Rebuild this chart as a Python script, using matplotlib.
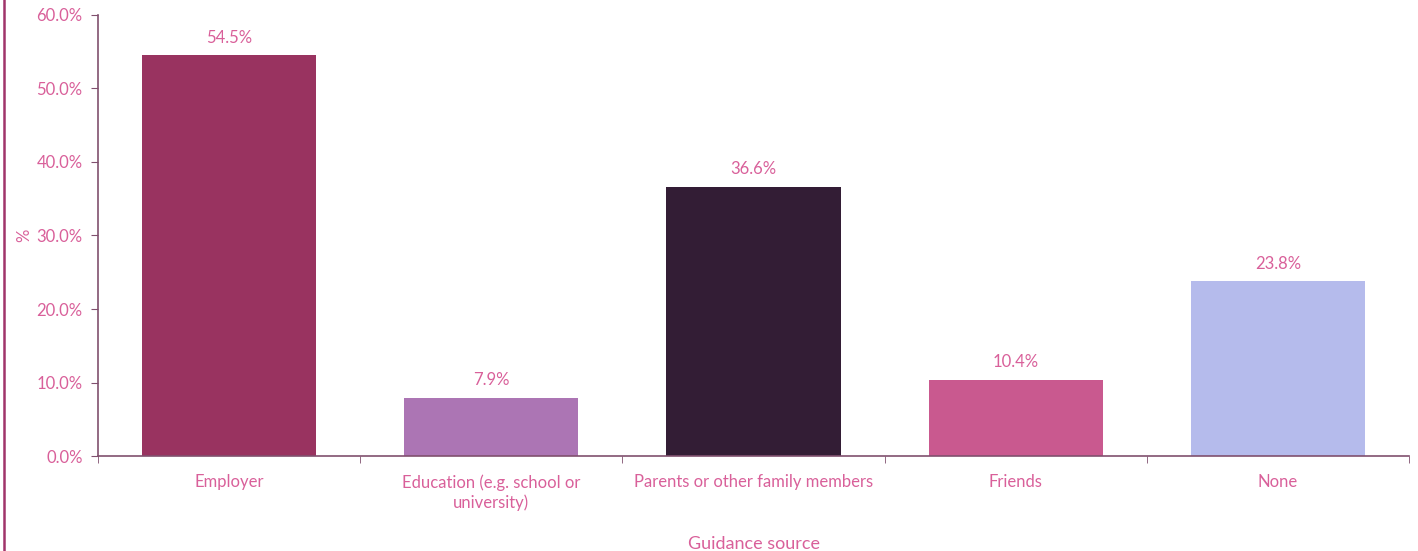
import matplotlib
matplotlib.use("Agg")
import matplotlib.pyplot as plt
from matplotlib.lines import Line2D
from matplotlib.ticker import FuncFormatter, FixedLocator, NullFormatter

categories = ["Employer", "Education (e.g. school or\nuniversity)",
              "Parents or other family members", "Friends", "None"]
values = [54.5, 7.9, 36.6, 10.4, 23.8]
colors = ["#993360", "#AC75B4", "#331D35", "#C9598F", "#B5BBEC"]

text_color = "#D9609A"
spine_color = "#80506E"

plt.rcParams['font.family'] = ['Lato', 'DejaVu Sans']

fig = plt.figure(figsize=(14.18, 5.51), dpi=100)
ax = fig.add_axes([0.0691, 0.1724, 0.9246, 0.8004])

x = list(range(len(categories)))
ax.bar(x, values, width=0.665, color=colors, zorder=2)
for xi, v in zip(x, values):
    ax.text(xi, v + 1.3, f"{v:.1f}%", ha="center", va="bottom",
            color=text_color, fontsize=12)

ax.set_xlim(-0.5, len(categories) - 0.5)
ax.set_ylim(0, 60)
ax.set_yticks([0, 10, 20, 30, 40, 50, 60])
ax.yaxis.set_major_formatter(FuncFormatter(lambda v, p: f"{v:.1f}%"))
ax.set_xticks(x)
ax.set_xticklabels(categories, color=text_color, fontsize=12, linespacing=1.25)
ax.xaxis.set_minor_locator(FixedLocator([i + 0.5 for i in range(-1, len(categories))]))
ax.xaxis.set_minor_formatter(NullFormatter())
ax.tick_params(axis="x", which="major", length=0, pad=13)
ax.tick_params(axis="x", which="minor", length=5, color=spine_color, direction="out")
ax.tick_params(axis="y", length=5, color=spine_color, labelcolor=text_color,
               labelsize=12, pad=6)

for s in ["top", "right"]:
    ax.spines[s].set_visible(False)
for s in ["left", "bottom"]:
    ax.spines[s].set_color(spine_color)
    ax.spines[s].set_linewidth(1.2)

ax.set_ylabel("%", color=text_color, fontsize=12, labelpad=3)
ax.set_xlabel("Guidance source", color=text_color, fontsize=13, labelpad=18)

fig.add_artist(Line2D([4 / 1418, 4 / 1418], [0, 1], transform=fig.transFigure,
                      color="#A0346A", linewidth=1.8))

fig.savefig("out.png", dpi=100)
